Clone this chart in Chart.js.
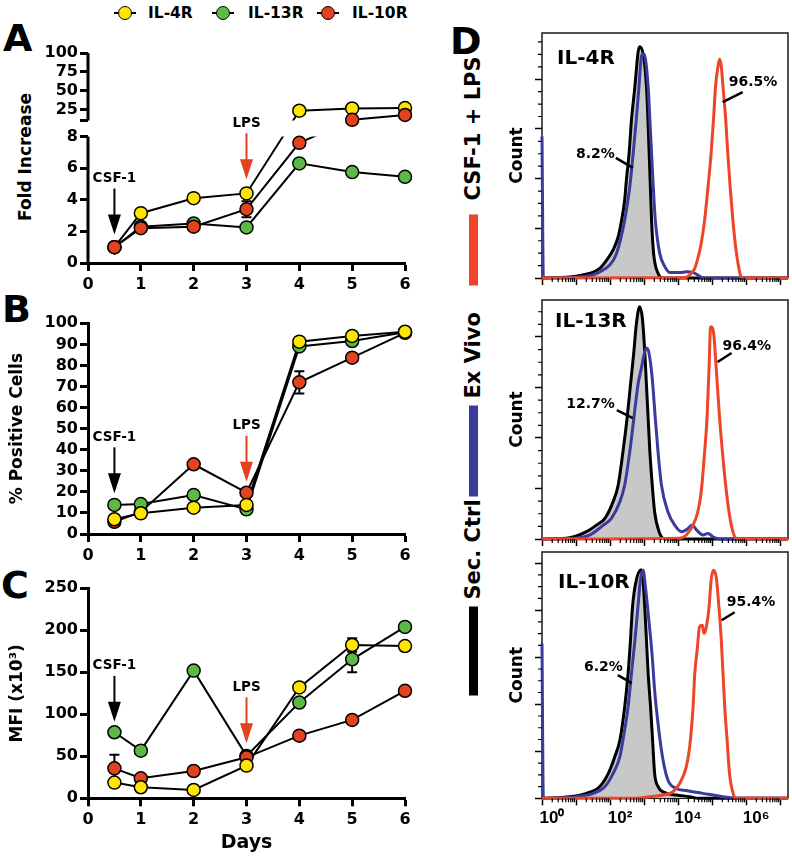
<!DOCTYPE html>
<html>
<head>
<meta charset="utf-8">
<script src="https://cdn.jsdelivr.net/npm/chart.js@4.4.1/dist/chart.umd.min.js"></script>
<style>
  html, body { margin:0; padding:0; background:#fff; }
  #fig { position:relative; width:792px; height:864px; overflow:hidden; background:#fff;
         font-family:"DejaVu Sans", sans-serif; font-weight:bold; color:#000; }
  #fig canvas { position:absolute; }
  .t { position:absolute; white-space:nowrap; }
  .vt { position:absolute; white-space:nowrap; transform:translate(-50%,-50%) rotate(-90deg); }
</style>
</head>
<body>
<div id="fig">
  <div class="t" style="left:3px;top:19px;font-size:38px;line-height:38px;">A</div>
  <div class="t" style="left:2px;top:290px;font-size:38px;line-height:38px;">B</div>
  <div class="t" style="left:1px;top:566px;font-size:38px;line-height:38px;">C</div>
  <div class="t" style="left:450px;top:22px;font-size:38px;line-height:38px;">D</div>
  <div class="vt" style="left:25px;top:157px;font-size:17px;line-height:20px;">Fold Increase</div>
  <div id="legendTop"></div>
  <div id="legendD" class="vt" style="left:473px;top:375px;width:641px;height:26px;"></div>
  <canvas id="cA" width="420" height="262" style="left:0;top:41px"></canvas>
  <canvas id="cB" width="420" height="269" style="left:0;top:305px"></canvas>
  <canvas id="cC" width="420" height="287" style="left:0;top:570px"></canvas>
  <canvas id="cD1" width="302" height="260" style="left:490px;top:28px"></canvas>
  <canvas id="cD2" width="302" height="254" style="left:490px;top:295px"></canvas>
  <canvas id="cD3" width="302" height="297" style="left:490px;top:547px"></canvas>
</div>
<script>
// ---------------- data: panels A-C ----------------
const days = [0.5, 1, 2, 3, 4, 5, 6];
const dayTicks = [0, 1, 2, 3, 4, 5, 6];
const seriesNames = ['IL-4R', 'IL-13R', 'IL-10R'];

const foldIL4R  = [1.0, 3.15, 4.1, 4.4, 24, 27, 27.5];
const foldIL13R = [1.0, 2.3, 2.5, 2.25, 6.3, 5.75, 5.45];
const foldIL10R = [1.0, 2.2, 2.3, 3.4, 7.6, 12, 18.4];
const foldErrIL10R = [0, 0, 0, 0.5, 0, 0, 0];
const foldTicksLow = [0, 2, 4, 6, 8];
const foldTicksHigh = [25, 50, 75, 100];
const foldBreakLow = 8;    // top of lower axis segment
const foldBreakHigh = 11;  // bottom of upper axis segment

const posIL4R  = [7.0, 9.8, 12.5, 13.8, 91.3, 94.0, 96.0];
const posIL13R = [13.8, 14.2, 18.5, 11.7, 89.0, 91.6, 95.7];
const posIL10R = [5.8, 10.5, 33.1, 19.6, 72.0, 83.7, 95.5];
const posErrIL10R = [0, 0, 0, 0, 5.3, 0, 0];
const posTicks = [0, 10, 20, 30, 40, 50, 60, 70, 80, 90, 100];

const mfiIL4R  = [18.7, 13.1, 9.9, 38.9, 132, 182.5, 181.3];
const mfiIL13R = [78.6, 56.7, 152, 50.5, 114, 165.5, 204];
const mfiIL10R = [35.7, 23.8, 32.5, 48.8, 74.6, 93.3, 128];
const mfiErrIL4R  = [0, 0, 0, 0, 0, 8, 0];
const mfiErrIL13R = [0, 0, 0, 0, 0, 15.5, 0];
const mfiErrIL10R = [16, 0, 0, 0, 0, 0, 0];
const mfiTicks = [0, 50, 100, 150, 200, 250];

// arrow annotations (day, value at arrow tip)
const arrowsA = [{label:'CSF-1', x:0.5, tip:1.8, red:false}, {label:'LPS', x:3, tip:5.3, red:true}];
const arrowsB = [{label:'CSF-1', x:0.5, tip:19.3, red:false}, {label:'LPS', x:3, tip:24.8, red:true}];
const arrowsC = [{label:'CSF-1', x:0.5, tip:91, red:false}, {label:'LPS', x:3, tip:65.5, red:true}];

// ---------------- data: panel D (x = log10 fluorescence, y = count) ----------------
const histLegend = ['Sec. Ctrl', 'Ex Vivo', 'CSF-1 + LPS'];
const histDecades = [1, 10, 100, 1e3, 1e4, 1e5, 1e6, 1e7];
const histDecadeLabels = ['10\u2070', '', '10\u00B2', '', '10\u2074', '', '10\u2076', ''];
const histMaxExp = 7.23;

const il4SecX = [0, 0.82, 1.41, 1.70, 1.90, 2.09, 2.24, 2.34, 2.43, 2.48, 2.56, 2.63, 2.73, 2.82, 2.87, 3.07, 3.15, 3.22, 3.28, 3.41, 3.56, 7.23];
const il4SecY = [0, 0.4, 1.9, 3.9, 7.2, 11.3, 16.6, 23.3, 31.4, 39.4, 50.2, 63.6, 77.0, 90.4, 93.1, 77.0, 50.2, 23.3, 9.9, 1.9, 0, 0];
const il4ExvX = [0, 0.04, 1.21, 1.70, 1.99, 2.19, 2.43, 2.58, 2.68, 2.77, 2.85, 2.92, 2.99, 3.12, 3.17, 3.22, 3.27, 3.33, 3.46, 3.61, 3.75, 4.05, 4.24, 4.44, 4.58, 4.73, 7.23];
const il4ExvY = [57, 0, 0.5, 2.5, 5.2, 9.9, 23.3, 36.7, 50.2, 63.6, 77.0, 89.1, 90.4, 77.0, 63.6, 50.2, 36.7, 23.3, 9.9, 4.6, 2.2, 2.2, 2.5, 2.2, 1.2, 0, 0];
const il4LpsX = [0, 4.15, 4.34, 4.49, 4.58, 4.68, 4.78, 4.88, 4.97, 5.04, 5.10, 5.17, 5.22, 5.27, 5.32, 5.40, 5.46, 5.53, 5.61, 5.69, 5.76, 5.83, 5.90, 7.23];
const il4LpsY = [0, 0.1, 1.2, 3.9, 7.9, 14.0, 23.3, 36.7, 50.2, 63.6, 77.0, 85.0, 88.0, 85.0, 77.0, 63.6, 50.2, 36.7, 23.3, 12.6, 5.9, 1.2, 0, 0];

const il13SecX = [0, 0.72, 1.31, 1.60, 1.85, 2.09, 2.24, 2.38, 2.50, 2.60, 2.70, 2.77, 2.87, 2.95, 3.02, 3.07, 3.12, 3.17, 3.24, 3.31, 3.44, 3.61, 7.23];
const il13SecY = [0, 0.3, 2.9, 5.5, 8.2, 14.8, 21.4, 34.6, 47.8, 61.0, 74.2, 84.8, 92.0, 87.4, 74.2, 61.0, 47.8, 34.6, 21.4, 10.8, 2.9, 0, 0];
const il13ExvX = [0, 0.9, 1.41, 1.80, 2.04, 2.29, 2.43, 2.58, 2.70, 2.82, 2.92, 3.02, 3.10, 3.17, 3.24, 3.33, 3.41, 3.51, 3.70, 3.90, 4.10, 4.24, 4.42, 4.54, 4.73, 4.88, 5.02, 5.22, 7.23];
const il13ExvY = [0, 0.2, 1.6, 5.5, 8.2, 14.8, 21.4, 34.6, 47.8, 61.0, 67.6, 74.2, 75.5, 71.6, 63.6, 47.8, 34.6, 21.4, 10.8, 5.5, 2.9, 3.6, 5.5, 3.6, 1.6, 2.2, 0.9, 0, 0];
const il13LpsX = [0, 4.05, 4.24, 4.44, 4.58, 4.68, 4.78, 4.85, 4.91, 4.95, 4.97, 5.04, 5.12, 5.22, 5.32, 5.42, 5.51, 5.61, 5.73, 7.23];
const il13LpsY = [0, 0.3, 1.6, 5.5, 10.8, 18.7, 34.6, 47.8, 67.6, 83.4, 84.1, 82.1, 67.6, 47.8, 31.9, 18.7, 9.5, 2.9, 0, 0];

const il10SecX = [0, 0.82, 1.31, 1.70, 1.95, 2.14, 2.29, 2.43, 2.53, 2.60, 2.66, 2.77, 2.92, 2.97, 3.02, 3.07, 3.12, 3.19, 3.25, 3.31, 3.41, 3.61, 3.95, 4.34, 4.60, 7.23];
const il10SecY = [0, 0.7, 2.1, 5.0, 10.6, 17.7, 24.8, 38.9, 53.1, 67.2, 81.4, 92.7, 97.2, 92.7, 81.4, 67.2, 53.1, 38.9, 24.8, 10.6, 5.0, 2.4, 1.4, 0.7, 0, 0];
const il10ExvX = [0, 0.04, 1.02, 1.51, 1.85, 2.09, 2.29, 2.38, 2.53, 2.63, 2.73, 2.82, 2.89, 2.97, 3.05, 3.15, 3.24, 3.31, 3.41, 3.54, 3.70, 3.95, 4.24, 4.73, 5.32, 5.71, 7.23];
const il10ExvY = [65.8, 0, 0.7, 2.1, 5.0, 10.6, 17.7, 24.8, 38.9, 53.1, 67.2, 81.4, 92.7, 97.0, 88.5, 74.3, 60.2, 46.0, 31.8, 17.7, 7.8, 4.2, 3.3, 2.1, 0.7, 0, 0];
const il10LpsX = [0, 2.78, 3.17, 3.56, 3.85, 4.05, 4.24, 4.34, 4.44, 4.49, 4.56, 4.63, 4.71, 4.76, 4.83, 4.91, 4.97, 5.04, 5.12, 5.20, 5.27, 5.32, 5.37, 5.44, 5.51, 5.59, 5.71, 7.23];
const il10LpsY = [0, 0, 0.7, 1.4, 2.8, 6.4, 13.4, 21.9, 38.9, 53.1, 63.0, 72.9, 73.6, 70.1, 72.9, 81.4, 92.7, 97.0, 94.1, 81.4, 67.2, 53.1, 38.9, 24.8, 10.6, 3.5, 0, 0];

// percentage call-outs: anchor on curve (log10 x, count)
const pctIL4  = [{t:'8.2%',  x:2.67, y:44.3, sx:-17, sy:-10, tx:-18, ty:-14, al:'right'}, {t:'96.5%', x:5.31, y:70.8, sx:20, sy:-10, tx:6, ty:-20, al:'left'}];
const pctIL13 = [{t:'12.7%', x:2.67, y:47.9, sx:-16, sy:-8,  tx:-18, ty:-14, al:'right'}, {t:'96.4%', x:5.16, y:70.1, sx:14, sy:-9, tx:5, ty:-16, al:'left'}];
const pctIL10 = [{t:'6.2%',  x:2.64, y:49.0, sx:-14, sy:-8,  tx:-9,  ty:-16, al:'right'}, {t:'95.4%', x:5.28, y:75.7, sx:13, sy:-8, tx:5, ty:-18, al:'left'}];

// ---------------- styles ----------------
const cYellow = '#FFE500', cGreen = '#5CB946', cRed = '#E4411E';
const hRed = '#EE4527', hBlue = '#3B3B9E', hGray = '#C8C8C8';
const FAM = '"DejaVu Sans", sans-serif';
const F = (size, fam) => ({ family: fam || FAM, size: size, weight: 'bold' });

Chart.defaults.font.family = FAM;
Chart.defaults.font.weight = 'bold';
Chart.defaults.color = '#000';
Chart.defaults.animation = false;

// ---------------- broken linear scale (panel A) ----------------
const brokenLayout = { lowFrac: 0.6024, highFrac: 0.3219 };
class BrokenLinearScale extends Chart.LinearScale {
  _bk() {
    const H = this.bottom - this.top;
    return { lowTop: this.bottom - H * brokenLayout.lowFrac, highBottom: this.top + H * brokenLayout.highFrac };
  }
  getPixelForValue(value) {
    const { lowTop, highBottom } = this._bk();
    if (value <= foldBreakLow) return this.bottom - (value - this.min) / (foldBreakLow - this.min) * (this.bottom - lowTop);
    if (value >= foldBreakHigh) return highBottom - (value - foldBreakHigh) / (this.max - foldBreakHigh) * (highBottom - this.top);
    return lowTop - (value - foldBreakLow) / (foldBreakHigh - foldBreakLow) * (lowTop - highBottom);
  }
  getValueForPixel(pixel) {
    const { lowTop, highBottom } = this._bk();
    if (pixel >= lowTop) return this.min + (this.bottom - pixel) / (this.bottom - lowTop) * (foldBreakLow - this.min);
    if (pixel <= highBottom) return foldBreakHigh + (highBottom - pixel) / (highBottom - this.top) * (this.max - foldBreakHigh);
    return foldBreakLow + (lowTop - pixel) / (lowTop - highBottom) * (foldBreakHigh - foldBreakLow);
  }
}
BrokenLinearScale.id = 'brokenLinear';
BrokenLinearScale.defaults = {};
Chart.register(BrokenLinearScale);

const gapPlugin = {
  id: 'gapClip',
  beforeDatasetDraw(chart, args) {
    const ds = chart.data.datasets[args.index];
    if (!ds.gapClip) return;
    const a = chart.chartArea, ys = chart.scales.y, ctx = chart.ctx;
    const yTop = ys.getPixelForValue(ys.max), yHb = ys.getPixelForValue(foldBreakHigh);
    const yLt = ys.getPixelForValue(foldBreakLow), yBot = ys.getPixelForValue(ys.min);
    ctx.save();
    ctx.beginPath();
    ctx.rect(a.left - 12, yTop - 2, a.right - a.left + 24, yHb - yTop + 2);
    ctx.rect(a.left - 12, yLt, a.right - a.left + 24, yBot - yLt + 2);
    ctx.clip();
  },
  afterDatasetDraw(chart, args) {
    if (chart.data.datasets[args.index].gapClip) chart.ctx.restore();
  },
  afterDraw(chart) {
    const ctx = chart.ctx, a = chart.chartArea, ys = chart.scales.y;
    ctx.save(); ctx.strokeStyle = '#000'; ctx.lineWidth = 3;
    ctx.beginPath();
    ctx.moveTo(a.left, ys.getPixelForValue(ys.min) + 1.5); ctx.lineTo(a.left, ys.getPixelForValue(foldBreakLow));
    ctx.moveTo(a.left, ys.getPixelForValue(foldBreakHigh)); ctx.lineTo(a.left, ys.getPixelForValue(ys.max));
    ctx.stroke(); ctx.restore();
  }
};

// ---------------- HTML legends ----------------
(function () {
  const top = document.getElementById('legendTop');
  const cols = [cYellow, cGreen, cRed];
  const mx = [125, 223, 328], tx = [148, 248, 352];
  seriesNames.forEach((n, i) => {
    const l = document.createElement('div');
    l.style.cssText = `position:absolute;left:${mx[i]-11}px;top:12px;width:22px;height:2px;background:#000;`;
    const c = document.createElement('div');
    c.style.cssText = `position:absolute;left:${mx[i]-7}px;top:6px;width:14px;height:14px;box-sizing:border-box;border:1.5px solid #000;border-radius:50%;background:${cols[i]};`;
    const t = document.createElement('div');
    t.className = 't';
    t.style.cssText = `left:${tx[i]}px;top:3px;font-size:15.5px;line-height:20px;`;
    t.textContent = n;
    top.appendChild(l); top.appendChild(c); top.appendChild(t);
  });
  const d = document.getElementById('legendD');
  const bars = [['#000', 0, 89], [hBlue, 199, 91], [hRed, 410, 71]];
  const txt = [96, 297, 495];
  bars.forEach((b, i) => {
    const e = document.createElement('div');
    e.style.cssText = `position:absolute;left:${b[1]}px;top:8.5px;width:${b[2]}px;height:9px;background:${b[0]};`;
    d.appendChild(e);
    const t = document.createElement('div');
    t.style.cssText = `position:absolute;left:${txt[i]}px;top:0;font-size:21px;line-height:26px;white-space:nowrap;`;
    t.textContent = histLegend[i];
    d.appendChild(t);
  });
})();

// ---------------- plugins ----------------
function arrowPlugin(items) {
  return { id: 'arrows', afterDatasetsDraw(chart) {
    const ctx = chart.ctx, xs = chart.scales.x, ys = chart.scales.y;
    items.forEach(a => {
      const x = xs.getPixelForValue(a.x), yt = ys.getPixelForValue(a.tip);
      const col = a.red ? cRed : '#000';
      ctx.save();
      ctx.strokeStyle = col; ctx.fillStyle = col; ctx.lineWidth = 2;
      ctx.beginPath(); ctx.moveTo(x, yt - 46); ctx.lineTo(x, yt - 18); ctx.stroke();
      ctx.beginPath(); ctx.moveTo(x - 6.5, yt - 20); ctx.lineTo(x + 6.5, yt - 20); ctx.lineTo(x, yt); ctx.closePath(); ctx.fill();
      ctx.fillStyle = '#000'; ctx.font = 'bold 13.5px ' + FAM;
      ctx.textAlign = 'center'; ctx.textBaseline = 'middle';
      ctx.fillText(a.label, x, yt - 56);
      ctx.restore();
    });
  }};
}
function errPlugin(list) {
  return { id: 'errbars', beforeDatasetsDraw(chart) {
    const ctx = chart.ctx, xs = chart.scales.x, ys = chart.scales.y;
    ctx.save(); ctx.strokeStyle = '#000'; ctx.lineWidth = 2;
    list.forEach(s => s.errs.forEach((e, i) => {
      if (!e) return;
      const v = s.vals[i];
      const x = xs.getPixelForValue(days[i]);
      const y1 = ys.getPixelForValue(v - e), y2 = ys.getPixelForValue(v + e);
      ctx.beginPath();
      ctx.moveTo(x, y1); ctx.lineTo(x, y2);
      ctx.moveTo(x - 5, y1); ctx.lineTo(x + 5, y1);
      ctx.moveTo(x - 5, y2); ctx.lineTo(x + 5, y2);
      ctx.stroke();
    }));
    ctx.restore();
  }};
}

const pts = vals => days.map((d, i) => ({ x: d, y: vals[i] }));

function leftChart(id, cfg) {
  const ds = [];
  cfg.series.forEach(s => ds.push({
    data: pts(s.vals), borderColor: '#000', borderWidth: 2, pointRadius: 0, fill: false,
    tension: 0, order: 10 + s.order, clip: false, gapClip: !!cfg.broken
  }));
  cfg.series.forEach(s => ds.push({
    data: pts(s.vals), showLine: false, order: s.order, clip: false,
    pointRadius: 6.5, pointBackgroundColor: s.color, pointBorderColor: '#000', pointBorderWidth: 1.5
  }));
  const plugins = [];
  if (cfg.broken) plugins.push(gapPlugin);
  if (cfg.errs) plugins.push(errPlugin(cfg.errs));
  if (cfg.arrows) plugins.push(arrowPlugin(cfg.arrows));
  return new Chart(document.getElementById(id), {
    type: 'line',
    data: { datasets: ds },
    plugins: plugins,
    options: {
      responsive: false, animation: false, events: [], devicePixelRatio: 1,
      layout: { padding: { left: 0, right: 15, top: cfg.padTop, bottom: cfg.padBottom } },
      plugins: { legend: { display: false }, tooltip: { enabled: false } },
      scales: {
        x: {
          type: 'linear', min: 0, max: 6,
          afterBuildTicks: s => { s.ticks = dayTicks.map(v => ({ value: v })); },
          afterFit: s => { s.height = cfg.xH; },
          ticks: { font: F(16), color: '#000', padding: 4, maxRotation: 0, autoSkip: false, callback: v => String(v) },
          grid: { display: true, drawOnChartArea: false, drawTicks: true, tickLength: 8, tickWidth: 3, tickColor: '#000' },
          border: { display: true, width: 3, color: '#000' },
          title: { display: !!cfg.xTitle, text: cfg.xTitle || '', font: F(19), color: '#000', padding: 0 }
        },
        y: {
          type: cfg.broken ? 'brokenLinear' : 'linear', min: cfg.yMin, max: cfg.yMax,
          afterBuildTicks: s => { s.ticks = cfg.yTicks.map(v => ({ value: v })); },
          afterFit: s => { s.width = 88; },
          ticks: { font: F(16), color: '#000', padding: 2, autoSkip: false, callback: cfg.yLabel || (v => String(v)) },
          grid: { display: true, drawOnChartArea: false, drawTicks: true, tickLength: 8, tickWidth: 3, tickColor: '#000' },
          border: { display: !cfg.broken, width: 3, color: '#000' },
          title: { display: !!cfg.yTitle, text: cfg.yTitle || '', font: F(17), color: '#000', padding: { top: 7, bottom: 0 } }
        }
      }
    }
  });
}

leftChart('cA', {
  series: [
    { vals: foldIL10R, color: cRed, order: 0 },
    { vals: foldIL4R, color: cYellow, order: 1 },
    { vals: foldIL13R, color: cGreen, order: 2 }
  ],
  broken: true, yMin: 0, yMax: 100,
  yTicks: foldTicksLow.concat([foldBreakHigh], foldTicksHigh),
  yLabel: v => (foldTicksLow.includes(v) || foldTicksHigh.includes(v)) ? String(v) : '',
  padTop: 12, padBottom: 5, xH: 35,
  arrows: arrowsA, errs: [{ vals: foldIL10R, errs: foldErrIL10R }]
});
leftChart('cB', {
  series: [
    { vals: posIL4R, color: cYellow, order: 0 },
    { vals: posIL13R, color: cGreen, order: 1 },
    { vals: posIL10R, color: cRed, order: 2 }
  ],
  yMin: 0, yMax: 100, yTicks: posTicks, yTitle: '% Positive Cells',
  padTop: 18.3, padBottom: 5, xH: 35,
  arrows: arrowsB, errs: [{ vals: posIL10R, errs: posErrIL10R }]
});
leftChart('cC', {
  series: [
    { vals: mfiIL4R, color: cYellow, order: 0 },
    { vals: mfiIL10R, color: cRed, order: 1 },
    { vals: mfiIL13R, color: cGreen, order: 2 }
  ],
  yMin: 0, yMax: 250, yTicks: mfiTicks, yTitle: 'MFI (x10\u00B3)', xTitle: 'Days',
  padTop: 18.3, padBottom: 2.6, xH: 56.1,
  arrows: arrowsC,
  errs: [{ vals: mfiIL4R, errs: mfiErrIL4R }, { vals: mfiIL13R, errs: mfiErrIL13R }, { vals: mfiIL10R, errs: mfiErrIL10R }]
});

// ---------------- histograms ----------------
function histDecor(cfg) {
  return {
    id: 'histDecor',
    beforeDatasetsDraw(chart) {
      const ctx = chart.ctx, a = chart.chartArea;
      ctx.save(); ctx.strokeStyle = '#1a1a1a'; ctx.lineWidth = 1.5;
      ctx.strokeRect(a.left, a.top, a.right - a.left, a.bottom - a.top);
      ctx.restore();
    },
    afterDatasetsDraw(chart) {
      const ctx = chart.ctx, a = chart.chartArea, xs = chart.scales.x, ys = chart.scales.y;
      ctx.save();
      ctx.strokeStyle = '#000'; ctx.lineWidth = 1.2; ctx.beginPath();
      for (let d = 0; d < 8; d++) {
        for (let k = 2; k <= 9; k++) {
          const v = k * Math.pow(10, d);
          if (v > xs.max) break;
          const x = xs.getPixelForValue(v);
          ctx.moveTo(x, a.bottom); ctx.lineTo(x, a.bottom + 4);
        }
      }
      for (let v = 5; v < ys.max; v += 5) {
        if (v % 20 === 0) continue;
        const y = ys.getPixelForValue(v);
        ctx.moveTo(a.left - 4, y); ctx.lineTo(a.left, y);
      }
      ctx.stroke();
      ctx.fillStyle = '#000';
      ctx.font = 'bold 20px ' + FAM; ctx.textAlign = 'left'; ctx.textBaseline = 'middle';
      ctx.fillText(cfg.title, a.left + cfg.tdx, a.top + cfg.tdy);
      ctx.font = 'bold 14px ' + FAM; ctx.lineWidth = 2.5;
      cfg.pcts.forEach(p => {
        const ex = xs.getPixelForValue(Math.pow(10, p.x)), ey = ys.getPixelForValue(p.y);
        ctx.beginPath(); ctx.moveTo(ex + p.sx, ey + p.sy); ctx.lineTo(ex, ey); ctx.stroke();
        ctx.textAlign = p.al;
        ctx.fillText(p.t, ex + p.tx, ey + p.ty);
      });
      ctx.restore();
    }
  };
}
const hpts = (xs, ys) => xs.map((e, i) => ({ x: Math.pow(10, e), y: ys[i] }));

function histChart(id, cfg) {
  const line = (data, col, order, fill) => ({
    data: data, borderColor: col, borderWidth: 3, pointRadius: 0, cubicInterpolationMode: 'monotone',
    order: order, clip: 4, fill: fill ? 'origin' : false, backgroundColor: fill ? hGray : 'transparent'
  });
  return new Chart(document.getElementById(id), {
    type: 'line',
    data: { datasets: [
      line(hpts(cfg.lps[0], cfg.lps[1]), hRed, 0, false),
      line(hpts(cfg.exv[0], cfg.exv[1]), hBlue, 1, false),
      line(hpts(cfg.sec[0], cfg.sec[1]), '#000', 2, true)
    ]},
    plugins: [histDecor(cfg)],
    options: {
      responsive: false, animation: false, events: [], devicePixelRatio: 1,
      layout: { padding: { left: 0, right: 4, top: 5, bottom: 0 } },
      plugins: { legend: { display: false }, tooltip: { enabled: false } },
      scales: {
        x: {
          type: 'logarithmic', min: 1, max: Math.pow(10, histMaxExp),
          afterBuildTicks: s => { s.ticks = histDecades.map(v => ({ value: v })); },
          afterFit: s => { s.height = cfg.xH; },
          ticks: { display: cfg.showLabels, font: F(17, '"Liberation Sans Narrow", "Liberation Sans", sans-serif'),
                   color: '#000', padding: 3, labelOffset: 10, maxRotation: 0, autoSkip: false,
                   callback: (v, i) => histDecadeLabels[i] },
          grid: { display: true, drawOnChartArea: false, drawTicks: true, tickLength: 7, tickWidth: 1.5, tickColor: '#000' },
          border: { display: false }
        },
        y: {
          type: 'linear', min: 0, max: cfg.yMax,
          afterBuildTicks: s => { s.ticks = [0, 20, 40, 60, 80, 100].filter(v => v <= cfg.yMax).map(v => ({ value: v })); },
          afterFit: s => { s.width = 52; },
          ticks: { display: false },
          grid: { display: true, drawOnChartArea: false, drawTicks: true, tickLength: 7, tickWidth: 1.5, tickColor: '#000' },
          border: { display: false },
          title: { display: true, text: 'Count', font: F(17), color: '#000', padding: { top: 17, bottom: 0 } }
        }
      }
    }
  });
}

histChart('cD1', { sec: [il4SecX, il4SecY], exv: [il4ExvX, il4ExvY], lps: [il4LpsX, il4LpsY],
  yMax: 98.6, xH: 10, showLabels: false, title: 'IL-4R', tdx: 15, tdy: 26, pcts: pctIL4 });
histChart('cD2', { sec: [il13SecX, il13SecY], exv: [il13ExvX, il13ExvY], lps: [il13LpsX, il13LpsY],
  yMax: 94.65, xH: 10, showLabels: false, title: 'IL-13R', tdx: 13, tdy: 22, pcts: pctIL13 });
histChart('cD3', { sec: [il10SecX, il10SecY], exv: [il10ExvX, il10ExvY], lps: [il10LpsX, il10LpsY],
  yMax: 104.75, xH: 45.7, showLabels: true, title: 'IL-10R', tdx: 16, tdy: 31, pcts: pctIL10 });
</script>
</body>
</html>
